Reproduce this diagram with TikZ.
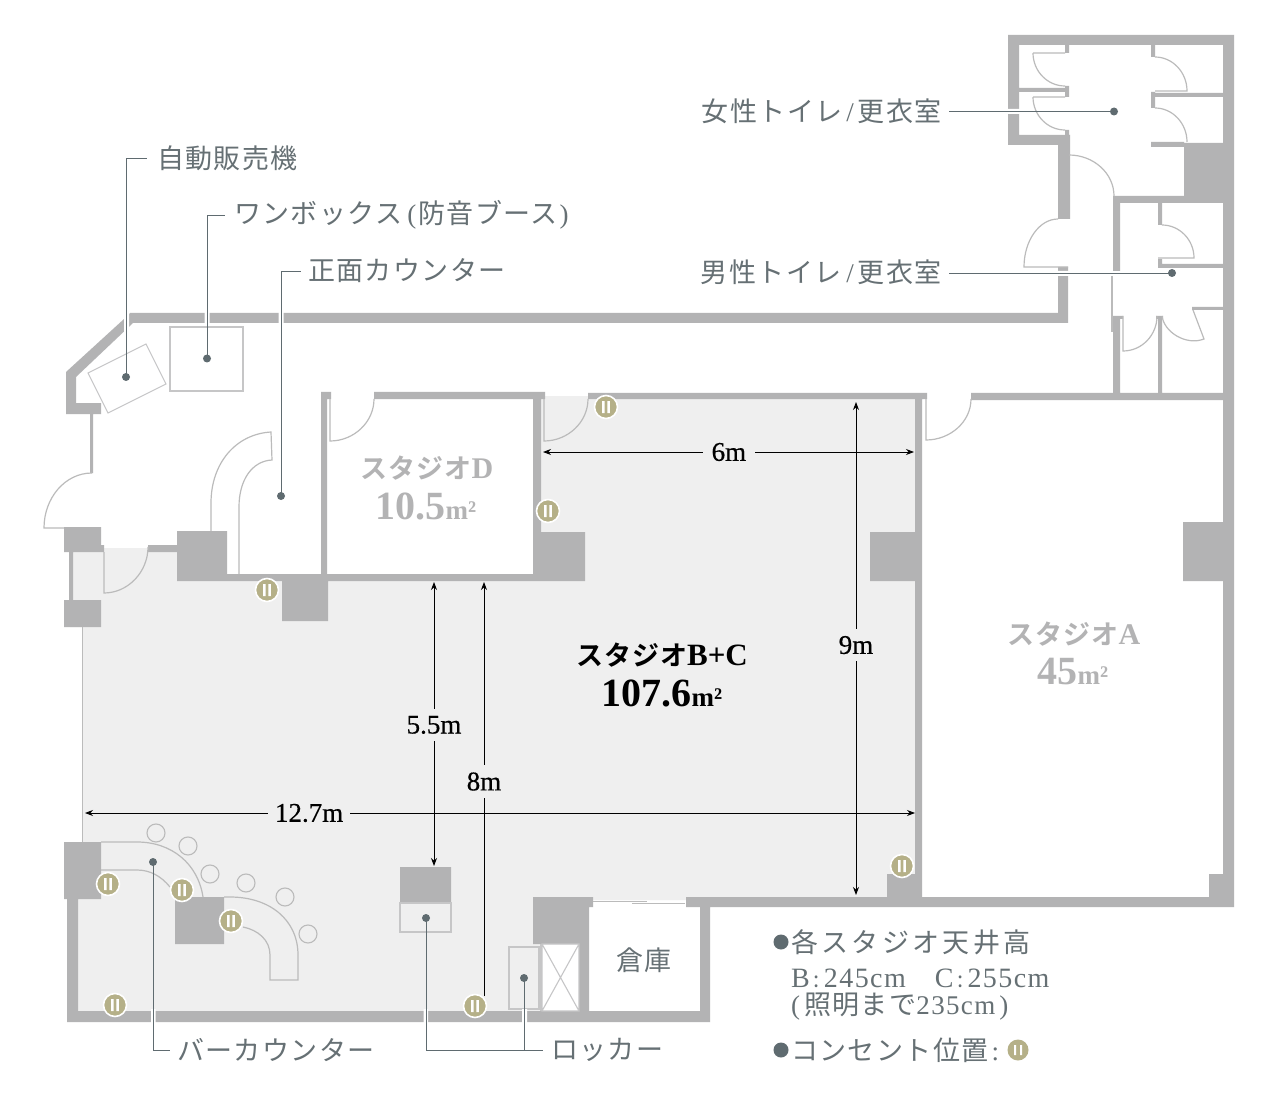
\documentclass[tikz,border=0pt]{standalone}
\usepackage{fontspec}
\usetikzlibrary{arrows.meta}
\setmainfont{Liberation Serif}
\newfontfamily\cjk[LetterSpace=5.2]{Noto Sans CJK JP}
\newfontfamily\cjkw[LetterSpace=12.3]{Noto Sans CJK JP}
\newfontfamily\cjkb[LetterSpace=3.7]{Noto Sans CJK JP Bold}
\newfontfamily\lat[LetterSpace=5]{Liberation Serif}
\newfontfamily\latb{Liberation Serif Bold}
\newfontfamily\dimf[FakeBold=0.5]{Liberation Serif}
\definecolor{wallc}{HTML}{B3B3B4}
\definecolor{floorc}{HTML}{EFEFEF}
\definecolor{linec}{HTML}{BBBBBB}
\definecolor{leadc}{HTML}{5F6B70}
\definecolor{textc}{HTML}{667074}
\definecolor{outc}{HTML}{B5B088}
\newcommand\fs[1]{\fontsize{#1}{#1}\selectfont}
\newcommand\arcHV[4]{(#1,#2) .. controls ({#1+.55*(#3-(#1))},#2) and (#3,{#4-.55*(#4-(#2))}) .. (#3,#4)}
\newcommand\arcVH[4]{(#1,#2) .. controls (#1,{#2+.55*(#4-(#2))}) and ({#3-.55*(#3-(#1))},#4) .. (#3,#4)}
\newcommand\outlet[3]{\node[outn] (#1) at (#2,#3) {};
  \fill[white] ({#2-3.8},{#3-6}) rectangle ({#2-1.4},{#3+6}) ({#2+1.4},{#3-6}) rectangle ({#2+3.8},{#3+6});}
\tikzset{
  wall/.style={fill=wallc,draw=none},
  thinl/.style={draw=linec,line width=1.2pt},
  boxl/.style={draw=wallc!75,line width=1.1pt},
  lead/.style={draw=leadc,line width=.9pt},
  dotn/.style={circle,fill=leadc,inner sep=0pt,minimum size=8pt},
  outn/.style={circle,fill=outc,draw=white,line width=1.6pt,inner sep=0pt,minimum size=23pt},
  lab/.style={text=textc,inner sep=0pt,anchor=west},
  dim/.style={draw=black,line width=.9pt,{Stealth[length=8pt,width=6pt]}-{Stealth[length=8pt,width=6pt]}},
  dimlab/.style={fill=floorc,text=black,inner sep=7pt,font=\fs{27}\dimf},
  room/.style={inner sep=0pt,align=center},
}
\begin{document}
\begin{tikzpicture}[x=1pt,y=-1pt]
\useasboundingbox (0,0) rectangle (1275,1107);
\fill[white] (0,0) rectangle (1275,1107);
% floor
\fill[floorc] (70,548) -- (177,548) -- (177,575) -- (538,575) -- (538,396) -- (918,396) -- (918,900)
  -- (535,900) -- (535,944) -- (541,944) -- (541,1015) -- (70,1015) -- (70,842) -- (82,842) -- (82,627) -- (70,627) -- cycle;
% walls
\fill[wall]
 (1008,35) rectangle (1234,45)
 (1008,35) rectangle (1019,145)
 (1008,135) rectangle (1069,145)
 (1058,135) rectangle (1070,219)
 (1058,267) rectangle (1068,323)
 (1223,35) rectangle (1234,907)
 (1065,45) rectangle (1069,53)
 (1065,86) rectangle (1069,97)
 (1019,88) rectangle (1069,92)
 (1065,130) rectangle (1069,135)
 (1151,45) rectangle (1155,57)
 (1151,92) rectangle (1155,108)
 (1151,93) rectangle (1223,97)
 (1151,142) rectangle (1184,147)
 (1184,143) rectangle (1223,203)
 (1113,196) rectangle (1223,203)
 (1113,203) rectangle (1120,271)
 (1158,203) rectangle (1162,225)
 (1158,259) rectangle (1162,268)
 (1158,264) rectangle (1223,268)
 (1192,307) rectangle (1223,310)
 (1113,316) rectangle (1120,393)
 (1113,316) rectangle (1123,319)
 (1158,316) rectangle (1162,393)
 (1156,316) rectangle (1163,319)
 (971,393) rectangle (1234,400)
 (130,313) rectangle (1068,323)
 (130,313) -- (124,319) -- (66,372) -- (66,414) -- (101,414) -- (101,403) -- (76,403) -- (76,377) -- (133,323) -- (133,313) -- cycle
 (90,414) rectangle (93,473)
 (64,527) rectangle (101,552)
 (101,545) rectangle (104,552)
 (148,545) rectangle (177,552)
 (177,531) rectangle (227,581)
 (227,574) rectangle (585,581)
 (282,574) rectangle (328,621)
 (69,552) rectangle (73,600)
 (64,600) rectangle (101,627)
 (321,392) rectangle (327,581)
 (321,392) rectangle (331,399)
 (374,392) rectangle (545,399)
 (533,392) rectangle (541,581)
 (533,532) rectangle (585,581)
 (588,393) rectangle (927,399)
 (915,393) rectangle (922,907)
 (870,532) rectangle (918,581)
 (1183,522) rectangle (1223,581)
 (887,874) rectangle (922,897)
 (1209,874) rectangle (1223,897)
 (686,897) rectangle (1234,907)
 (64,842) rectangle (101,899)
 (67,899) rectangle (78,1021)
 (67,1011) rectangle (710,1022)
 (700,897) rectangle (710,1022)
 (175,897) rectangle (224,944)
 (400,867) rectangle (451,902)
 (533,897) rectangle (593,907)
 (533,907) rectangle (589,944)
 (579,944) rectangle (589,1011);
% thin wall lines
\draw[thinl,line width=1pt] (82.5,627) -- (82.5,842);
\draw[thinl,line width=1pt] (593,901) -- (647,901) (632,903) -- (685,903);
\draw[thinl] (1112,276) -- (1112,332);
% x box
\draw[boxl] (542,944) rectangle (579,1011) (542,1011) -- (579,944) (542,944) -- (579,1011);
\draw[boxl] (541,944) -- (541,1011);
% doors
\draw[thinl]
 (1065,53) -- (1033,53) \arcVH{1033}{53}{1065}{86}
 (1065,97) -- (1033,97) \arcVH{1033}{97}{1065}{130}
 \arcHV{1155}{57}{1187}{91} -- (1155,91)
 \arcHV{1155}{108}{1187}{142}
 \arcHV{1069}{155}{1114}{196}
 \arcHV{1058}{219}{1024}{267} -- (1068,267)
 \arcHV{1162}{225}{1194}{258} -- (1158,258)
 (1123,316) -- (1123,351) .. controls (1142,351) and (1157,335) .. (1157,316)
 (1162,316) .. controls (1164,332) and (1186,346) .. (1204,339) -- (1193,310)
 (330,399) -- (330,441) .. controls (354,441) and (374,422) .. (374,399)
 (544,399) -- (544,441) .. controls (568,441) and (588,422) .. (588,399)
 (926,399) -- (926,440) .. controls (950,440) and (971,422) .. (971,399)
 (92,473) .. controls (65,473) and (44,498) .. (44,528) -- (64,528)
 (104,552) -- (104,593) .. controls (128,593) and (148,572) .. (148,547);
% furniture
\draw[boxl] (88,373) -- (146,344) -- (166,384) -- (108,413) -- cycle;
\draw[boxl] (170,327) rectangle (243,391);
\draw[thinl] (211,531) -- (211,503) .. controls (211,463) and (236,434) .. (271,432) -- (272,460)
  .. controls (252,461) and (239,480) .. (239,507) -- (239,574);
\draw[boxl] (400,903) rectangle (451,932);
\draw[boxl] (509,947) rectangle (539,1009);
% bar
\draw[thinl] (101,842) -- (137,842) .. controls (172,842) and (198,864) .. (203,897);
\draw[thinl] (101,870) -- (137,870) .. controls (150,870) and (161,876) .. (170,887);
\draw[thinl] (224,897) -- (230,897) .. controls (270,897) and (298,920) .. (298,955) -- (298,980) -- (270,980) -- (270,955)
  .. controls (270,940) and (258,930) .. (243,927);
\foreach \n/\x/\y in {s1/156/833,s2/188/846,s3/210/874,s4/246/883,s5/285/897,s6/308/934}
  \node[circle,draw=linec,line width=1.1pt,inner sep=0pt,minimum size=18pt] (\n) at (\x,\y) {};
% leader gaps in walls
\fill[white] (124,310) rectangle (129,335) (204.5,310) rectangle (209.5,325) (278.5,310) rectangle (283.5,325)
  (151,1009) rectangle (155.5,1024) (423.5,1009) rectangle (428,1024) (522,1009) rectangle (527,1024)
  (1005,109) rectangle (1021,114) (1055,271) rectangle (1071,276);
% dots
\node[dotn] (dvend) at (126,377) {};
\node[dotn] (dbox) at (207,358.5) {};
\node[dotn] (dfront) at (281,496) {};
\node[dotn] (dwom) at (1114,111.5) {};
\node[dotn] (dman) at (1172,273) {};
\node[dotn] (dbar) at (153,862) {};
\node[dotn] (dlock) at (426,918) {};
\node[dotn] (dlockb) at (524,978) {};
% labels
\node[lab,font=\fs{27}\cjk] (lvend) at (157,158) {自動販売機};
\node[lab,font=\fs{27}\cjk] (lbox) at (234,215) {ワンボックス{\lat\hspace{5pt}(\hspace{2pt}}防音ブース{\lat\hspace{2pt})\hspace{4pt}}};
\node[lab,font=\fs{27}\cjk] (lfront) at (308,271) {正面カウンター};
\node[lab,font=\fs{27}\cjk,anchor=east] (lwom) at (942,111) {女性トイレ{\lat\hspace{4pt}/\hspace{4pt}}更衣室};
\node[lab,font=\fs{27}\cjk,anchor=east] (lman) at (942,272) {男性トイレ{\lat\hspace{5pt}/\hspace{4pt}}更衣室};
\node[lab,font=\fs{27}\cjk] (lbar) at (177,1050) {バーカウンター};
\node[lab,font=\fs{27}\cjk] (llock) at (551,1050) {ロッカー};
\node[lab,font=\fs{27}\cjk] (lstore) at (616,960) {倉庫};
% leader lines
\coordinate (cvend) at (126,158); \coordinate (cbox) at (207,215); \coordinate (cfront) at (281,271);
\coordinate (cbar) at (153,1050); \coordinate (clock) at (426,1050); \coordinate (clockb) at (524,1050);
\draw[lead] (dvend.center) -- (cvend) -- ([xshift=-10pt]lvend.west);
\draw[lead] (dbox.center) -- (cbox) -- ([xshift=-9pt]lbox.west);
\draw[lead] (dfront.center) -- (cfront) -- ([xshift=-7pt]lfront.west);
\draw[lead] (dwom.center) -- ([xshift=7pt]lwom.east |- dwom.center);
\draw[lead] (dman.center) -- ([xshift=7pt]lman.east |- dman.center);
\draw[lead] (dbar.center) -- (cbar) -- ([xshift=-7pt]lbar.west);
\draw[lead] (dlock.center) -- (clock) -- ([xshift=-8pt]llock.west);
\draw[lead] (dlockb.center) -- (clockb);
% dimensions
\coordinate (a6l) at (543,452); \coordinate (a6r) at (914,452);
\coordinate (a9t) at (856,402); \coordinate (a9b) at (856,895);
\coordinate (a55t) at (434,582); \coordinate (a55b) at (434,866);
\coordinate (a8t) at (484,582); \coordinate (a8b) at (484,996);
\coordinate (a127l) at (85,813); \coordinate (a127r) at (915,813);
\draw[dim] (a6l) -- node[dimlab,pos=.501,inner xsep=9pt] (l6) {6m} (a6r);
\draw[dim] (a9t) -- node[dimlab,pos=.493] (l9) {9m} (a9b);
\draw[dim] (a55t) -- node[dimlab,pos=.503] (l55) {5.5m} (a55b);
\draw[-{Stealth[length=8pt,width=6pt]},line width=.9pt] (a8b) -- node[dimlab,pos=.518] (l8) {8m} (a8t);
\draw[dim] (a127l) -- node[dimlab,pos=.27] (l127) {12.7m} (a127r);
% outlets
\outlet{o1}{606}{407}
\outlet{o2}{548}{511}
\outlet{o3}{267}{590}
\outlet{o4}{902}{866}
\outlet{o5}{108}{884}
\outlet{o6}{182}{890}
\outlet{o7}{231}{921}
\outlet{o8}{115}{1005}
\outlet{o9}{475}{1006}
% rooms
\node[room,text=wallc,font=\fs{27}\cjkb] (sd) at (427,468) {スタジオ{\latb\fs{30}D}};
\node[room,text=wallc] (sda) at (426,506) {\latb\fs{40}10.5\fs{27}m²};
\node[room,text=wallc,font=\fs{27}\cjkb] (sa) at (1074,634) {スタジオ{\latb\fs{30}A}};
\node[room,text=wallc] (saa) at (1073,672) {\latb\fs{40}45\fs{27}m²};
\node[room,text=black,font=\fs{27}\cjkb] (sb) at (662,655) {スタジオ{\latb\fs{31}B+C}};
\node[room,text=black] (sba) at (662,693) {\latb\fs{40}107.6\fs{27}m²};
% legend
\node[circle,fill=leadc,inner sep=0pt,minimum size=15pt] (b1) at (781,942) {};
\node[lab,font=\fs{27}\cjkw] (t1) at (791,942) {各スタジオ天井高};
\node[lab,font=\fs{28}\lat] (t2) at (791,978) {B{\hspace{4pt}\fs{22}\cjk:\hspace{4pt}}245cm\hspace{29pt}C{\hspace{4pt}\fs{22}\cjk:\hspace{4pt}}255cm};
\node[lab,font=\fs{27}\lat] (t3) at (791,1007) {(\hspace{4pt}{\cjk 照明まで}235cm\hspace{4pt})};
\node[circle,fill=leadc,inner sep=0pt,minimum size=15pt] (b2) at (781,1050) {};
\node[lab,font=\fs{27}\cjk] (t4) at (791,1050) {コンセント位置{\lat\hspace{3pt}:}};
\node[circle,fill=outc,inner sep=0pt,minimum size=21pt] (oleg) at (1018,1050) {};
\fill[white] (1014,1045) rectangle (1016,1055) (1020,1045) rectangle (1022,1055);
\end{tikzpicture}
\end{document}
